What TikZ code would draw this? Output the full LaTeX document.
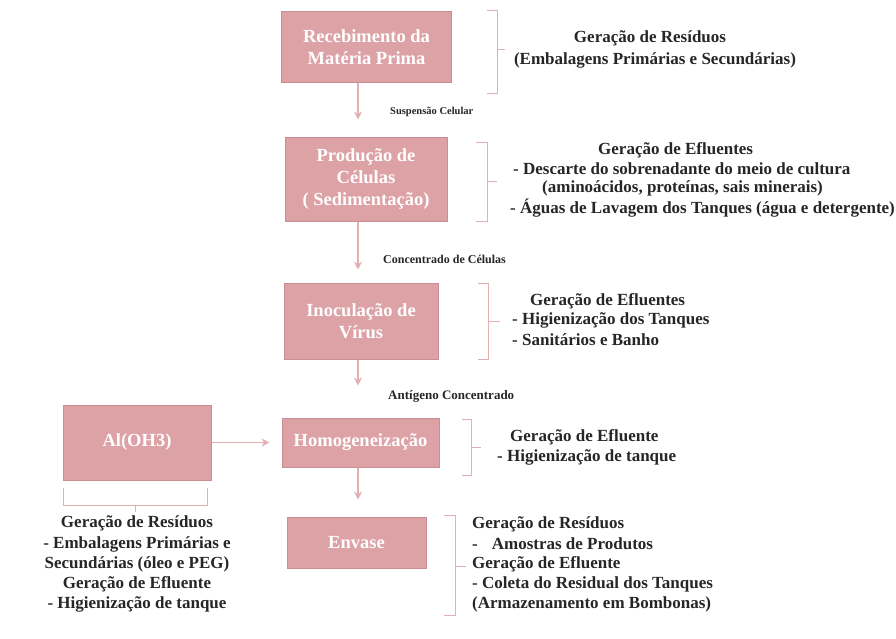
\documentclass[tikz,border=0pt]{standalone}
\usepackage{fontspec}
\setmainfont{Liberation Serif}
\usetikzlibrary{arrows.meta}
\definecolor{boxfill}{HTML}{DDA2A6}
\definecolor{boxline}{HTML}{C98E93}
\definecolor{pinkline}{HTML}{E2B0B3}
\begin{document}
\begin{tikzpicture}[x=1pt,y=-1pt,
  box/.style={draw=boxline, line width=1pt, fill=boxfill, text=white,
    font=\bfseries\fontsize{18.5}{22}\selectfont, align=center, inner sep=0pt},
  arr/.style={draw=pinkline, line width=1.3pt, -{Stealth[length=8pt,width=8pt]}},
  brk/.style={draw=pinkline, line width=1pt},
  txt/.style={font=\bfseries\fontsize{17}{20}\selectfont, inner sep=0pt, text=black!85},
  lbl/.style={font=\bfseries\fontsize{12}{14}\selectfont, inner sep=0pt, anchor=west, text=black!85}]
\useasboundingbox (0,0) rectangle (896,639);

% process boxes
\node[box, minimum width=170pt, minimum height=71pt] (b1) at (366.5,47.5) {Recebimento da\\Matéria Prima};
\node[box, minimum width=162pt, minimum height=83pt] (b2) at (366,179.5) {Produção de\\Células\\( Sedimentação)};
\node[box, minimum width=154pt, minimum height=76pt] (b3) at (361,321) {Inoculação de\\Vírus};
\node[box, minimum width=157pt, minimum height=49pt] (b4) at (360.5,442.5) {Homogeneização};
\node[box, minimum width=148pt, minimum height=75pt] (al) at (137,442.5) {Al(OH3)};
\node[box, minimum width=139pt, minimum height=51pt] (b5) at (356.5,542.5) {Envase};

\coordinate (ax) at (358,0);

% arrows
\draw[arr, shorten >=18pt] (b1.south -| ax) -- (b2.north -| ax);
\draw[arr, shorten >=13pt] (b2.south -| ax) -- (b3.north -| ax);
\draw[arr, shorten >=32pt] (b3.south -| ax) -- (b4.north -| ax);
\draw[arr, shorten >=17pt] (b4.south -| ax) -- (b5.north -| ax);
\draw[arr, shorten >=12pt] (al.east) -- (b4.west);

% arrow labels
\node[lbl, font=\bfseries\fontsize{10.5}{12}\selectfont] (l1) at (390,112) {Suspensão Celular};
\node[lbl] (l2) at (383,259) {Concentrado de Células};
\node[lbl, font=\bfseries\fontsize{13}{15}\selectfont] (l3) at (388,396) {Antígeno Concentrado};

% brackets
\draw[brk] (487,11) -- (497,11) -- (497,94) -- (487,94);
\draw[brk] (497,50) -- (505,50);
\draw[brk] (476,143) -- (487,143) -- (487,221) -- (476,221);
\draw[brk] (487,182) -- (497,182);
\draw[brk] (478,283) -- (488,283) -- (488,359) -- (478,359);
\draw[brk] (488,321) -- (500,321);
\draw[brk] (462,419) -- (471,419) -- (471,475) -- (462,475);
\draw[brk] (471,447) -- (481,447);
\draw[brk] (444,515) -- (455,515) -- (455,615) -- (444,615);
\draw[brk] (455,566) -- (466,566);
\draw[brk] (63,488) -- (63,505) -- (207,505) -- (207,488);
\draw[brk] (135,505) -- (135,512);

% texts
\node[txt] (t1a) at (650,38) {Geração de Resíduos};
\node[txt] (t1b) at (655,60) {(Embalagens Primárias e Secundárias)};

\node[txt, anchor=west] (t2a) at (598,150) {Geração de Efluentes};
\node[txt, anchor=west] (t2b) at (513,169) {- Descarte do sobrenadante do meio de cultura};
\node[txt, anchor=west] (t2c) at (542,188) {(aminoácidos, proteínas, sais minerais)};
\node[txt, anchor=west] (t2d) at (510,208) {- Águas de Lavagem dos Tanques (água e detergente)};

\node[txt, anchor=west] (t3a) at (530,301) {Geração de Efluentes};
\node[txt, anchor=west] (t3b) at (512,320) {- Higienização dos Tanques};
\node[txt, anchor=west] (t3c) at (512,340) {- Sanitários e Banho};

\node[txt, anchor=west] (t4a) at (510,437) {Geração de Efluente};
\node[txt, anchor=west] (t4b) at (497,457) {- Higienização de tanque};

\node[txt, anchor=west] (t5a) at (472,524) {Geração de Resíduos};
\node[txt, anchor=west] (t5b) at (472,544) {-\hspace{14pt}Amostras de Produtos};
\node[txt, anchor=west] (t5c) at (472,564) {Geração de Efluente};
\node[txt, anchor=west] (t5d) at (472,584) {- Coleta do Residual dos Tanques};
\node[txt, anchor=west] (t5e) at (472,604) {(Armazenamento em Bombonas)};

\node[txt] (t6a) at (137,523) {Geração de Resíduos};
\node[txt] (t6b) at (137,544) {- Embalagens Primárias e};
\node[txt] (t6c) at (137,564) {Secundárias (óleo e PEG)};
\node[txt] (t6d) at (137,584) {Geração de Efluente};
\node[txt] (t6e) at (137,604) {- Higienização de tanque};
\end{tikzpicture}
\end{document}
